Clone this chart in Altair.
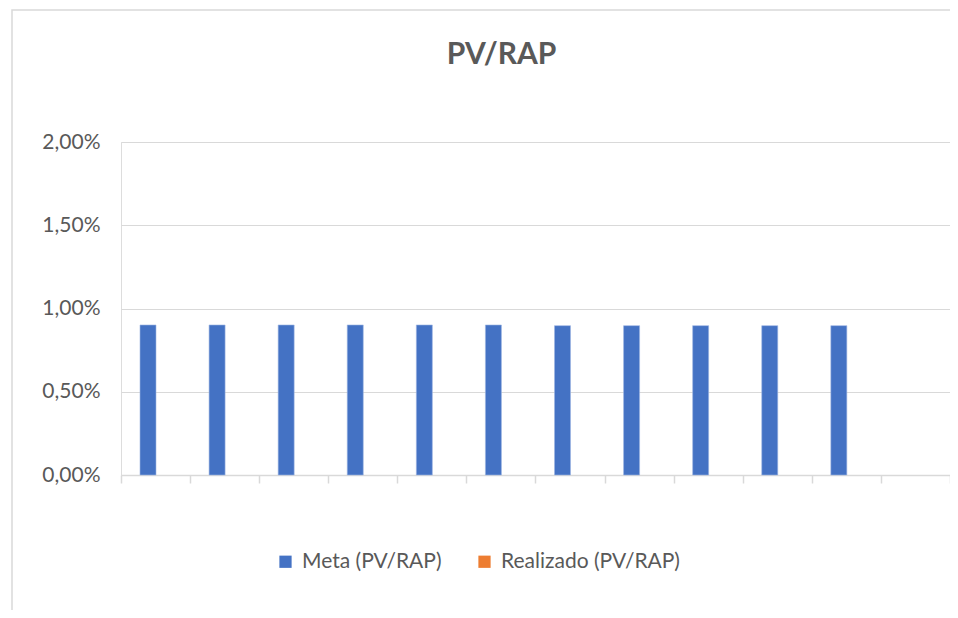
import altair as alt
import pandas as pd

meses = ["Jan", "Fev", "Mar", "Abr", "Mai", "Jun", "Jul", "Ago", "Set", "Out", "Nov", "Dez"]
meta = [0.00901, 0.00901, 0.00901, 0.00901, 0.00901, 0.00901,
        0.00897, 0.00897, 0.00897, 0.00897, 0.00897, None]
realizado = [None] * 12
series = ["Meta (PV/RAP)", "Realizado (PV/RAP)"]
cores = ["#4472C4", "#ED7D31"]
y_ticks = [0, 0.005, 0.01, 0.015, 0.02]

rows = []
for i, m in enumerate(meses):
    rows.append({"mes": m, "serie": series[0], "valor": meta[i]})
    rows.append({"mes": m, "serie": series[1], "valor": realizado[i]})
df = pd.DataFrame(rows)

FONT = "Lato"
GRAY = "#595959"

bars = alt.Chart(df).mark_bar(stroke="#9DB5E3", strokeWidth=0.6).encode(
    x=alt.X("mes:N", sort=meses,
            scale=alt.Scale(paddingInner=0, paddingOuter=0),
            axis=alt.Axis(title=None, labels=False, ticks=True, tickBand="extent",
                          tickSize=8, tickColor="#D9D9D9", domainColor="#D9D9D9",
                          domainWidth=1.5, tickWidth=1.5, grid=False)),
    xOffset=alt.XOffset("serie:N", scale=alt.Scale(domain=series, range=[19, 51],
                                                   paddingInner=0, paddingOuter=0)),
    y=alt.Y("valor:Q",
            scale=alt.Scale(domain=[0, 0.02]),
            axis=alt.Axis(title=None, values=y_ticks,
                          labelExpr="replace(format(datum.value, '.2%'), '.', ',')",
                          labelFont=FONT, labelFontSize=21, labelColor=GRAY,
                          labelPadding=21, ticks=False, domain=False,
                          gridColor="#D9D9D9", gridWidth=1.2)),
    color=alt.Color("serie:N",
                    scale=alt.Scale(domain=series, range=cores),
                    legend=alt.Legend(title=None, orient="none", direction="horizontal",
                                      legendX=154, legendY=409, padding=0,
                                      symbolType="square", symbolSize=150,
                                      symbolStrokeWidth=0, symbolOpacity=1,
                                      labelFont=FONT, labelFontSize=21, labelColor=GRAY,
                                      labelOffset=6, columnPadding=32, labelLimit=400)),
)

frame = alt.Chart(pd.DataFrame({"a": [0]})).mark_rect(
    fill=None, stroke="#D9D9D9", strokeWidth=1.5
).encode(
    x=alt.value(-109), x2=alt.value(1000), y=alt.value(-132), y2=alt.value(700)
)

chart = alt.layer(frame, bars).properties(
    width=829,
    height=333,
    title=alt.TitleParams("PV/RAP", font=FONT, fontSize=30, fontWeight="bold",
                          color=GRAY, anchor="middle", dx=-34, offset=-61),
    autosize=alt.AutoSizeParams(type="none"),
    padding={"left": 113, "top": 134, "right": 0, "bottom": 135},
).configure_view(stroke=None).configure(background="white")

chart.save("out.html", embed_options={"renderer": "svg", "actions": False})
